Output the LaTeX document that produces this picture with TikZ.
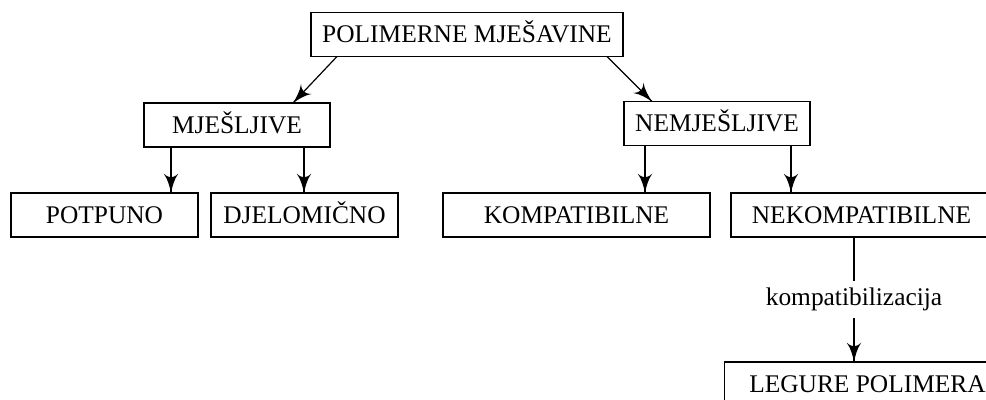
\documentclass[tikz,border=0pt]{standalone}
\usepackage{fontspec}
\setmainfont{Liberation Serif}
\usetikzlibrary{arrows}
\usetikzlibrary{calc}
\usetikzlibrary{decorations.markings}
\tikzset{box/.style = {draw, line width=0.7pt, inner sep=0pt, outer sep=0pt,
                       minimum height=22pt, text height=8.4pt, text depth=0pt,
                       font=\fontsize{12.7}{15}\selectfont}}
\tikzset{arr/.style = {line width=0.6pt,
                       decoration={markings,
                                   mark=at position 1 with {\arrow[scale=2.1]{latex'}}},
                       postaction={decorate}}}

\begin{document}
\begin{tikzpicture}[x=0.5pt, y=-0.5pt]
      \useasboundingbox (0, 0) rectangle (986, 400);
      \clip (0, 0) rectangle (986, 400);

      \node [box, minimum width=156pt] (mjesavine) at (467, 34.5) {POLIMERNE MJEŠAVINE};

      \node [box, minimum width=93pt] (mjesljive) at (237, 125) {MJEŠLJIVE};
      \node [box, minimum width=93pt] (nemjesljive) at (717, 123.5) {NEMJEŠLJIVE};

      \node [box, minimum width=93.5pt] (potpuno) at (104.5, 215) {POTPUNO};
      \node [box, minimum width=93.5pt] (djelomicno) at (304.5, 215) {DJELOMIČNO};
      \node [box, minimum width=133.5pt] (kompatibilne) at (576.5, 215) {KOMPATIBILNE};
      \node [box, minimum width=130.5pt] (nekompatibilne) at (861.5, 215) {NEKOMPATIBILNE};

      \node [box, minimum width=143pt] (legure) at (867.5, 384) {LEGURE POLIMERA};

      \draw [arr] ($(mjesavine.south west)+(26, 0)$) -- ($(mjesljive.north east)+(-37, 0)$);
      \draw [arr] ($(mjesavine.south east)+(-16, 0)$) -- ($(nemjesljive.north west)+(28, 0)$);

      \draw [arr] ($(mjesljive.south west)+(27, 0)$) coordinate (p1) -- (p1 |- potpuno.north);
      \draw [arr] ($(mjesljive.south east)+(-26, 0)$) coordinate (p2) -- (p2 |- djelomicno.north);
      \draw [arr] ($(nemjesljive.south west)+(21, 0)$) coordinate (p3) -- (p3 |- kompatibilne.north);
      \draw [arr] ($(nemjesljive.south east)+(-19, 0)$) coordinate (p4) -- (p4 |- nekompatibilne.north);

      \draw [arr] ($(nekompatibilne.south west)+(123, 0)$) coordinate (p5) -- (p5 |- legure.north)
        node [pos=0.5, fill=white, font=\fontsize{12.7}{15}\selectfont] {kompatibilizacija};
    \end{tikzpicture}
\end{document}
